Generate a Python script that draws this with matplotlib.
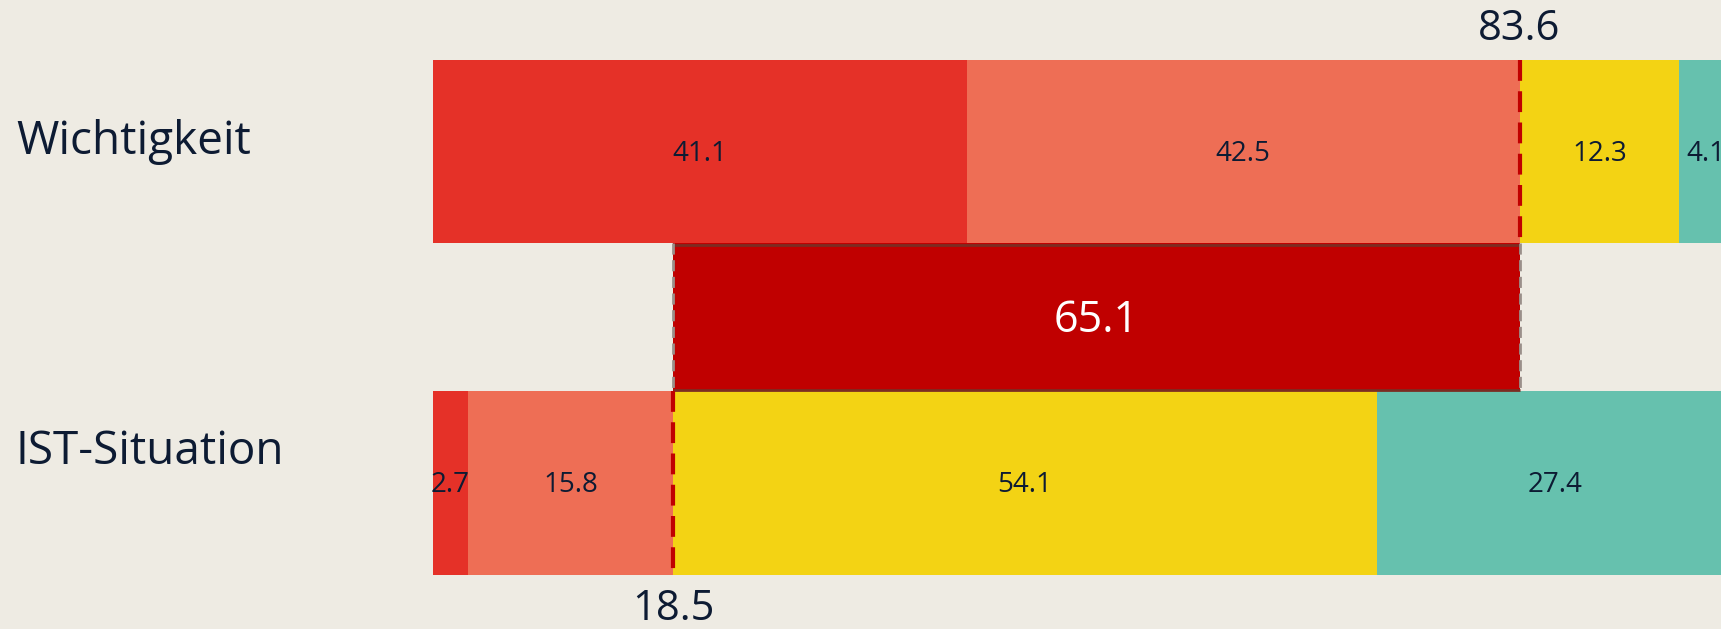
import matplotlib.pyplot as plt
import matplotlib.transforms as mtransforms

plt.rcParams['font.family'] = ['Open Sans', 'DejaVu Sans']

# data
categories = ['Wichtigkeit', 'IST-Situation']
wichtigkeit = [41.1, 42.5, 12.3, 4.1]
ist = [2.7, 15.8, 54.1, 27.4]
top2_wichtig = 83.6
top2_ist = 18.5
gap = 65.1

colors = ['#E53128', '#EE6E55', '#F3D314', '#66C1AE']
bg = '#EEEBE3'
dark = '#0D1B33'

fig = plt.figure(figsize=(17.21, 6.29), dpi=100, facecolor=bg)
ax = fig.add_axes([0, 0, 1, 1])
ax.set_facecolor(bg)
ax.set_xlim(-33.3, 99.1)
ax.set_ylim(1.441, -0.459)
ax.axis('off')

h = 0.553
for row, vals in enumerate([wichtigkeit, ist]):
    left = 0
    for v, c in zip(vals, colors):
        ax.barh(row, v, left=left, height=h, color=c, edgecolor='none')
        ax.text(left + v / 2, row + 0.005, f'{v:.1f}', ha='center', va='center',
                fontsize=20, color=dark)
        left += v

# gap box between the two bars
y0 = 0 + h / 2
y1 = 1 - h / 2
ax.barh((y0 + y1) / 2, top2_wichtig - top2_ist, left=top2_ist, height=y1 - y0,
        color='#C00000', edgecolor='none', zorder=3)
ax.hlines([y0 + 0.004, y1 - 0.004], top2_ist, top2_wichtig, color='#7B2C22', lw=2, zorder=4)
ax.vlines([top2_ist, top2_wichtig], y0, y1, color='#9A8F8A', lw=2,
          linestyles=(0, (4, 2)), zorder=4)
ax.text((top2_ist + top2_wichtig) / 2, (y0 + y1) / 2 + 0.01, f'{gap:.1f}', ha='center',
        va='center', fontsize=31, color='white', zorder=5)

# dashed markers for top-2 values
ax.vlines(top2_wichtig, -h / 2, h / 2, color='#C00000', lw=3,
          linestyles=(0, (5, 2.5)), zorder=5)
ax.vlines(top2_ist, 1 - h / 2, 1 + h / 2, color='#C00000', lw=3,
          linestyles=(0, (5, 2.5)), zorder=5)
ax.text(top2_wichtig, -0.37, f'{top2_wichtig:.1f}', ha='center', va='center',
        fontsize=30, color=dark)
ax.text(top2_ist, 1.38, f'{top2_ist:.1f}', ha='center', va='center',
        fontsize=30, color=dark)

# category labels
trans = mtransforms.blended_transform_factory(fig.transFigure, ax.transData)
ax.text(16 / 1721, -0.03, categories[0], transform=trans, ha='left', va='center',
        fontsize=33, color=dark)
ax.text(16 / 1721, 0.905, categories[1], transform=trans, ha='left', va='center',
        fontsize=33, color=dark)

fig.savefig('out.png', dpi=100, facecolor=bg)
